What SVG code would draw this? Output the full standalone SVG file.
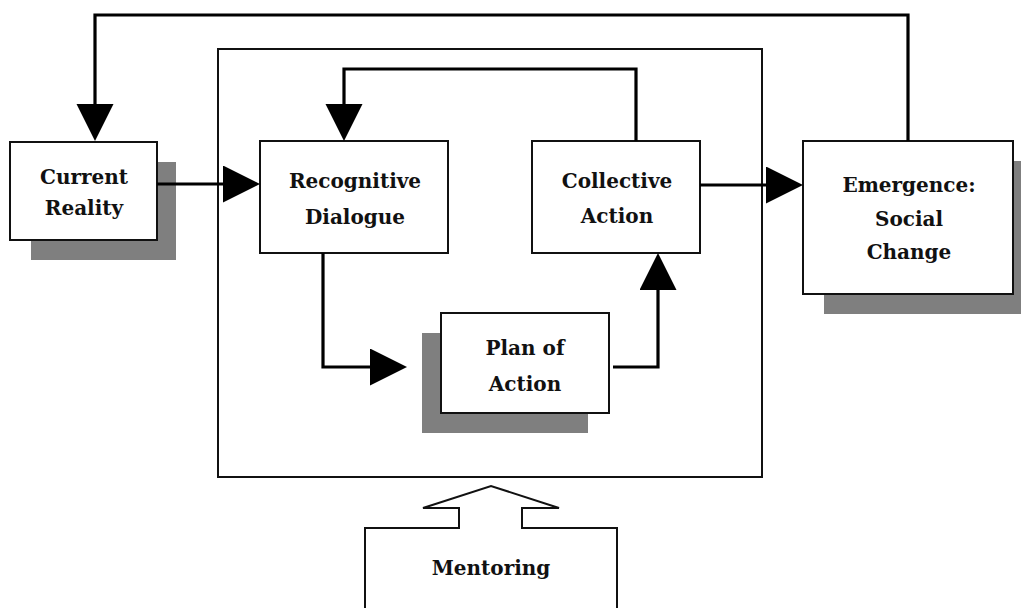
<svg xmlns="http://www.w3.org/2000/svg" width="1021" height="608" viewBox="0 0 1021 608">
<style>
.box{fill:#fff;stroke:#111;stroke-width:2}
.shadow{fill:#7f7f7f;stroke:none}
.frame{fill:none;stroke:#111;stroke-width:2}
.conn{fill:none;stroke:#000;stroke-width:3.2}
.lbl{font-family:"DejaVu Serif","Liberation Serif",serif;font-weight:bold;font-size:20px;fill:#111;text-anchor:middle}
</style>
<defs>
<marker id="ah" markerUnits="userSpaceOnUse" markerWidth="40" markerHeight="40" refX="27" refY="18.5" orient="auto" viewBox="0 0 40 40">
<path d="M0,0 L37,18.5 L0,37 z" fill="#000"/>
</marker>
</defs>
<rect width="1021" height="608" fill="#fff"/>
<g id="frame"><rect class="frame" x="218" y="49" width="544" height="428"/></g>
<g id="current-reality">
<rect class="shadow" x="31" y="162" width="145" height="98"/>
<rect class="box" x="10" y="142" width="147" height="98"/>
<text class="lbl" x="84" y="184">Current</text>
<text class="lbl" x="84" y="215">Reality</text>
</g>
<g id="recognitive-dialogue">
<rect class="box" x="260" y="141" width="188" height="112"/>
<text class="lbl" x="355" y="188">Recognitive</text>
<text class="lbl" x="355" y="224">Dialogue</text>
</g>
<g id="collective-action">
<rect class="box" x="532" y="141" width="168" height="112"/>
<text class="lbl" x="617" y="188">Collective</text>
<text class="lbl" x="617" y="223">Action</text>
</g>
<g id="plan-of-action">
<rect class="shadow" x="422" y="333" width="166" height="100"/>
<rect class="box" x="441" y="313" width="168" height="100"/>
<text class="lbl" x="525" y="355">Plan of</text>
<text class="lbl" x="525" y="391">Action</text>
</g>
<g id="emergence">
<rect class="shadow" x="824" y="161" width="210" height="153"/>
<rect class="box" x="803" y="141" width="210" height="153"/>
<text class="lbl" x="909" y="192">Emergence:</text>
<text class="lbl" x="909" y="226">Social</text>
<text class="lbl" x="909" y="259">Change</text>
</g>
<g id="mentoring">
<path class="box" d="M365,612 V528 H459 V508 H423 L491,486 L559,508 H522 V528 H617 V612"/>
<text class="lbl" x="491" y="575">Mentoring</text>
</g>
<g id="connectors">
<path class="conn" d="M157,184 H250" marker-end="url(#ah)"/>
<path class="conn" d="M700,185 H793" marker-end="url(#ah)"/>
<path class="conn" d="M323,253 V367 H397" marker-end="url(#ah)"/>
<path class="conn" d="M613,367 H658 V263" marker-end="url(#ah)"/>
<path class="conn" d="M636,141 V69 H344 V131" marker-end="url(#ah)"/>
<path class="conn" d="M908,141 V15 H95 V131" marker-end="url(#ah)"/>
</g>
</svg>
